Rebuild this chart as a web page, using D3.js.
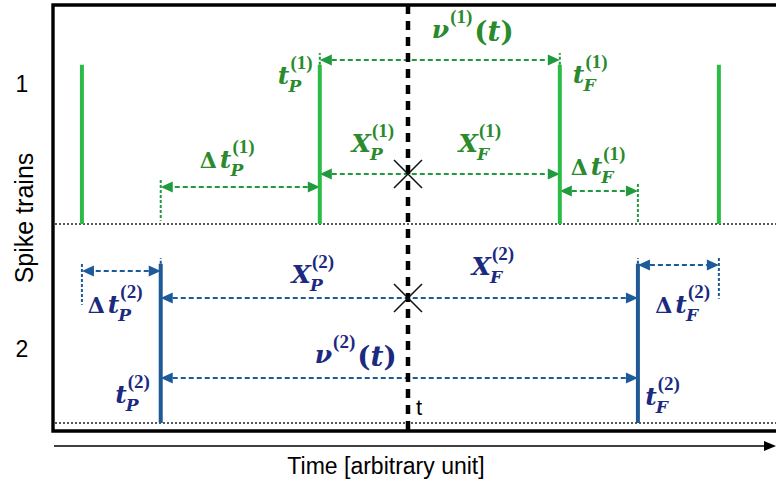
<!DOCTYPE html>
<html>
<head>
<meta charset="utf-8">
<script src="https://cdn.jsdelivr.net/npm/d3@7"></script>
<style>
    body { margin: 0; background: #ffffff; }
</style>
</head>
<body>
<svg id="spike-trains"></svg>
<script>
const width = 776, height = 483
const frame = { top: 5, left: 53, bottom: 431 }

// spike times in arbitrary units (0..100)
const trainNames = ["1", "2"]
const spikes1 = [4.0, 36.9, 70.1, 92.1]
const spikes2 = [14.9, 80.9]
const tNow = 49.1
const spikeHeight = 0.8

const green = { spike: "#2dbb47", arrow: "#1f9a3c", text: "#2a8a2c" }
const blue = { spike: "#1f5a96", arrow: "#1c5a9a", text: "#1b2a80" }

const svg = d3.select("svg#spike-trains")
    .attr("viewBox", [0, 0, width, height])
    .attr("width", width)
    .attr("height", height)
    .style("background", "#ffffff")

const xScale = d3.scaleLinear()
    .domain([0, 100])
    .range([frame.left, width])

// each train occupies one unit, train "1" on top
const yScale = d3.scaleLinear()
    .domain([0, 2])
    .range([423, 25])

const trains = [
    { name: trainNames[0], spikes: spikes1, base: 1, other: spikes2, col: green,
      lev: { nu: 0.824, x: 0.251, dP: 0.186, dF: 0.166 } },
    { name: trainNames[1], spikes: spikes2, base: 0, other: spikes1, col: blue,
      lev: { nu: 0.226, x: 0.628, dP: 0.764, dF: 0.794 } },
]

// label anchors (time, level) for the annotation text
const labelPlaces = [
    [{ key: "nu", t: 52.4, y: 1.935 }, { key: "tP", t: 31.1, y: 1.704 }, { key: "tF", t: 71.9, y: 1.709 },
     { key: "XP", t: 41.3, y: 1.362 }, { key: "XF", t: 56.1, y: 1.362 },
     { key: "dP", t: 20.3, y: 1.281 }, { key: "dF", t: 71.6, y: 1.246 }],
    [{ key: "nu", t: 36.2, y: 0.302 }, { key: "tP", t: 8.6, y: 0.101 }, { key: "tF", t: 81.9, y: 0.090 },
     { key: "XP", t: 33.0, y: 0.704 }, { key: "XF", t: 57.9, y: 0.744 },
     { key: "dP", t: 4.8, y: 0.553 }, { key: "dF", t: 83.3, y: 0.553 }],
]

const labelParts = {
    nu: { base: "ν", sub: "", arg: true },
    tP: { base: "t", sub: "P" },
    tF: { base: "t", sub: "F" },
    XP: { base: "X", sub: "P" },
    XF: { base: "X", sub: "F" },
    dP: { delta: true, base: "t", sub: "P" },
    dF: { delta: true, base: "t", sub: "F" },
}

// frame
svg.append("path")
    .attr("d", `M${width},${frame.top}H${frame.left}V${frame.bottom}H${width}`)
    .attr("fill", "none")
    .attr("stroke", "#000")
    .attr("stroke-width", 3.4)

// baselines
svg.selectAll("line.baseline")
    .data(trains)
    .join("line").attr("class", "baseline")
    .attr("x1", frame.left + 2)
    .attr("x2", width)
    .attr("y1", d => yScale(d.base))
    .attr("y2", d => yScale(d.base))
    .attr("stroke", "#222")
    .attr("stroke-width", 1.4)
    .attr("stroke-dasharray", "2,2")

function arrow(g, xa, xb, yy, color) {
    const head = 12, hw = 5.5
    const dir = xb > xa ? 1 : -1
    g.append("line")
        .attr("x1", xa + dir * head).attr("x2", xb - dir * head)
        .attr("y1", yy).attr("y2", yy)
        .attr("stroke", color)
        .attr("stroke-width", 2)
        .attr("stroke-dasharray", "5,3")
    g.append("path")
        .attr("d", `M${xa},${yy}L${xa + dir * head},${yy - hw}L${xa + dir * head},${yy + hw}Z`)
        .attr("fill", color)
    g.append("path")
        .attr("d", `M${xb},${yy}L${xb - dir * head},${yy - hw}L${xb - dir * head},${yy + hw}Z`)
        .attr("fill", color)
}

function dotted(g, xx, y1, y2, color) {
    g.append("line")
        .attr("x1", xx).attr("x2", xx)
        .attr("y1", y1).attr("y2", y2)
        .attr("stroke", color)
        .attr("stroke-width", 2)
        .attr("stroke-dasharray", "3,2")
}

function mathLabel(sel, px, py, spec, sup, color) {
    const g = sel.append("g")
        .attr("fill", color)
        .style("font-family", "'DejaVu Serif', serif")
        .style("font-weight", "bold")
    const main = g.append("text").attr("x", px).attr("y", py)
    if (spec.delta) main.append("tspan").style("font-size", "22px").text("Δ")
    main.append("tspan")
        .attr("dx", spec.delta ? 3 : 0)
        .style("font-style", "italic")
        .style("font-size", "25px")
        .text(spec.base)
    const w = main.node().getComputedTextLength() + (spec.delta ? 3 : 0)
    const supText = g.append("text")
        .attr("x", px + w + 1).attr("y", py - 15)
        .style("font-family", "'Liberation Serif', serif")
        .style("font-size", "19px")
        .text(`(${sup})`)
    const sw = supText.node().getComputedTextLength()
    if (spec.sub) {
        g.append("text")
            .attr("x", px + w - 1).attr("y", py + 8)
            .style("font-size", "17px")
            .style("font-style", "italic")
            .text(spec.sub)
    }
    if (spec.arg) {
        const post = g.append("text")
            .attr("x", px + w + sw + 3).attr("y", py + 3)
            .style("font-size", "28px")
        post.append("tspan").text("(")
        post.append("tspan").style("font-style", "italic").text("t")
        post.append("tspan").text(")")
    }
}

trains.forEach((tr, i) => {
    const g = svg.append("g").attr("class", "train")
    const P = d3.max(tr.spikes.filter(s => s <= tNow))
    const F = d3.min(tr.spikes.filter(s => s > tNow))
    // neighbouring spikes of the other train: before t_P and after t_F
    const oP = d3.max(tr.other.filter(s => s < P))
    const oF = d3.min(tr.other.filter(s => s > F))
    const lv = k => yScale(tr.base + tr.lev[k])

    // interval arrows
    arrow(g, xScale(P), xScale(F), lv("nu"), tr.col.arrow)
    arrow(g, xScale(P), xScale(F), lv("x"), tr.col.arrow)
    arrow(g, xScale(P), xScale(oP), lv("dP"), tr.col.arrow)
    arrow(g, xScale(F), xScale(oF), lv("dF"), tr.col.arrow)

    // dotted markers at the neighbouring spikes of the other train
    ;[["dP", oP], ["dF", oF]].forEach(([k, s]) => {
        dotted(g, xScale(s), yScale(tr.base + tr.lev[k] + 0.035),
            yScale(tr.base + Math.max(0, tr.lev[k] - 0.17)), tr.col.arrow)
    })

    // dotted extension above the spike when an arrow sits above it
    const topLev = d3.max(Object.values(tr.lev)) + 0.035
    if (topLev > spikeHeight) {
        ;[P, F].forEach(s => dotted(g, xScale(s), yScale(tr.base + spikeHeight), yScale(tr.base + topLev), tr.col.arrow))
    }

    // spikes
    g.selectAll("line.spike")
        .data(tr.spikes)
        .join("line").attr("class", "spike")
        .attr("x1", d => xScale(d)).attr("x2", d => xScale(d))
        .attr("y1", yScale(tr.base))
        .attr("y2", yScale(tr.base + spikeHeight))
        .attr("stroke", tr.col.spike)
        .attr("stroke-width", 4)

    // labels
    labelPlaces[i].forEach(p => {
        mathLabel(svg, xScale(p.t), yScale(p.y), labelParts[p.key], tr.name, tr.col.text)
    })
})

// current time t
svg.append("line")
    .attr("x1", xScale(tNow)).attr("x2", xScale(tNow))
    .attr("y1", frame.top).attr("y2", frame.bottom + 1)
    .attr("stroke", "#000")
    .attr("stroke-width", 4.5)
    .attr("stroke-dasharray", "9,7")

// crossing marks at t
trains.forEach(tr => {
    const cx = xScale(tNow), cy = yScale(tr.base + tr.lev.x), r = 14
    svg.append("path")
        .attr("d", `M${cx - r},${cy - r}L${cx + r},${cy + r}M${cx - r},${cy + r}L${cx + r},${cy - r}`)
        .attr("stroke", "#111")
        .attr("stroke-width", 1.5)
})

svg.append("text")
    .attr("x", xScale(tNow) + 8)
    .attr("y", 415)
    .style("font-family", "'Liberation Sans', sans-serif")
    .style("font-size", "22px")
    .text("t")

// time axis with arrow
svg.append("line")
    .attr("x1", frame.left + 1).attr("x2", width - 10)
    .attr("y1", 446).attr("y2", 446)
    .attr("stroke", "#000")
    .attr("stroke-width", 1.5)
svg.append("path")
    .attr("d", `M${width},446L${width - 12},441L${width - 12},451Z`)
    .attr("fill", "#000")

svg.append("text")
    .attr("x", 386)
    .attr("y", 474)
    .attr("text-anchor", "middle")
    .style("font-family", "'Liberation Sans', sans-serif")
    .style("font-size", "23px")
    .text("Time [arbitrary unit]")

// train names and y title
svg.selectAll("text.train-name")
    .data(trains)
    .join("text").attr("class", "train-name")
    .attr("x", 22)
    .attr("y", (d, i) => i === 0 ? 92 : 357)
    .attr("text-anchor", "middle")
    .style("font-family", "'Liberation Sans', sans-serif")
    .style("font-size", "23px")
    .text(d => d.name)

svg.append("text")
    .attr("transform", "translate(33,218) rotate(-90)")
    .attr("text-anchor", "middle")
    .style("font-family", "'Liberation Sans', sans-serif")
    .style("font-size", "25px")
    .text("Spike trains")
</script>
</body>
</html>
